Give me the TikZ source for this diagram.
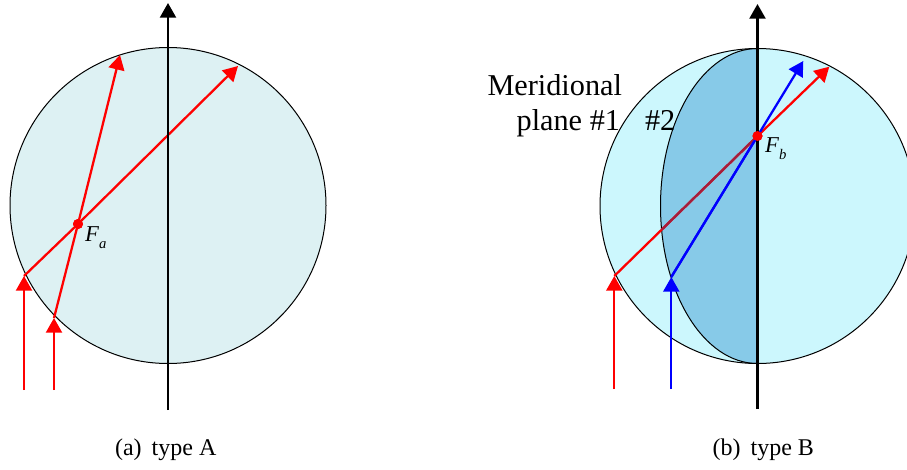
\documentclass[tikz,border=0pt]{standalone}
\usepackage{fontspec}
\setmainfont{Liberation Serif}
\usetikzlibrary{arrows.meta,calc}
\definecolor{sphereA}{RGB}{221,241,243}
\definecolor{sphereB}{RGB}{204,247,253}
\definecolor{planeB}{RGB}{135,202,232}
\definecolor{rayback}{RGB}{165,30,60}
\tikzset{
	ray/.style={line width=1.7pt},
	tip/.style={-{Triangle[length=11pt,width=12pt]}},
	focal/.style={circle,fill=red,inner sep=0pt,minimum size=7.5pt},
	lbl/.style={inner sep=0pt,outer sep=0pt},
}
\begin{document}
\begin{tikzpicture}[x=0.75pt,y=-0.75pt]
		\useasboundingbox (0,0) rectangle (907,469);
		\clip (0,0) rectangle (907,469);
		% (a) Typ A
		\filldraw [fill=sphereA, line width=0.75pt] (168,205.5) circle (158);
		\node[focal] (Fa) at (78,224) {};
		\foreach \n/\x/\y/\ex/\ey in {1/24/276/238/66, 2/54/318/120/55} {
			\coordinate (sa\n) at (\x,390);
			\coordinate (ha\n) at (\x,\y);
			\coordinate (ea\n) at (\ex,\ey);
			\draw [ray, red, tip] (sa\n) -- (ha\n);
			\draw [ray, red, tip] (ha\n) -- (Fa.center) -- (ea\n);
		}
		\node[focal] at (Fa) {};
		\coordinate (axA0) at (168,410);
		\coordinate (axA1) at (168,3);
		\draw [ray, black, tip] (axA0) -- (axA1);
		\node[lbl, anchor=base west, font=\fontsize{17}{17}\selectfont] (labFa) at (85,241.7) {\textit{F}\raisebox{-5pt}{\fontsize{11}{11}\selectfont\textit{a}}};
		% (b) Typ B
		\fill [sphereB] (757.5,206) circle (157.5);
		\fill [planeB] (757.5,48.5) arc[start angle=270, end angle=90, x radius=97, y radius=157.5] -- cycle;
		\draw [line width=0.75pt] (757.5,206) circle (157.5);
		\draw [line width=0.75pt] (757.5,48.5) arc[start angle=270, end angle=90, x radius=97, y radius=157.5];
		\node[focal] (Fb) at (757.5,136) {};
		\foreach \n/\x/\y/\ex/\ey/\c in {1/614.3/276/829.3/66.7/red, 2/671.3/277/803.3/61/blue} {
			\coordinate (sb\n) at (\x,389);
			\coordinate (hb\n) at (\x,\y);
			\coordinate (eb\n) at (\ex,\ey);
			\draw [ray, \c, tip] (sb\n) -- (hb\n);
			\draw [ray, \c, tip] (hb\n) -- (Fb.center) -- (eb\n);
		}
		% roter Strahl hinter Ebene #2
		\coordinate (xb1) at ($(hb1)!0.33!(Fb.center)$);
		\draw [ray, rayback] (xb1) -- (Fb.center);
		\draw [ray, blue] (hb2) -- (Fb.center);
		\coordinate (axB0) at (757.5,409);
		\coordinate (axB1) at (757.5,4);
		\draw [ray, black, tip] (axB0) -- (axB1);
		\node[focal] at (Fb) {};
		\node[lbl, anchor=base west, font=\fontsize{17}{17}\selectfont] (labFb) at (765,152.7) {\textit{F}\raisebox{-5pt}{\fontsize{11}{11}\selectfont\textit{b}}};
		\node[lbl, anchor=base east, font=\fontsize{22.7}{22.7}\selectfont] (merid) at (622,95) {Meridional};
		\node[lbl, anchor=base east, font=\fontsize{22.7}{22.7}\selectfont] (planeA) at (620,130) {plane \#1};
		\node[lbl, anchor=base west, font=\fontsize{22.7}{22.7}\selectfont] (planeB) at (645,130) {\#2};
		% Unterschriften
		\node[lbl, anchor=base, font=\fontsize{18}{18}\selectfont] (capA) at (165.7,455) {(a)\hspace{7.5pt}type A};
		\node[lbl, anchor=base, font=\fontsize{18}{18}\selectfont] (capB) at (763.3,455) {(b)\hspace{7.5pt}type B};
	\end{tikzpicture}
\end{document}
